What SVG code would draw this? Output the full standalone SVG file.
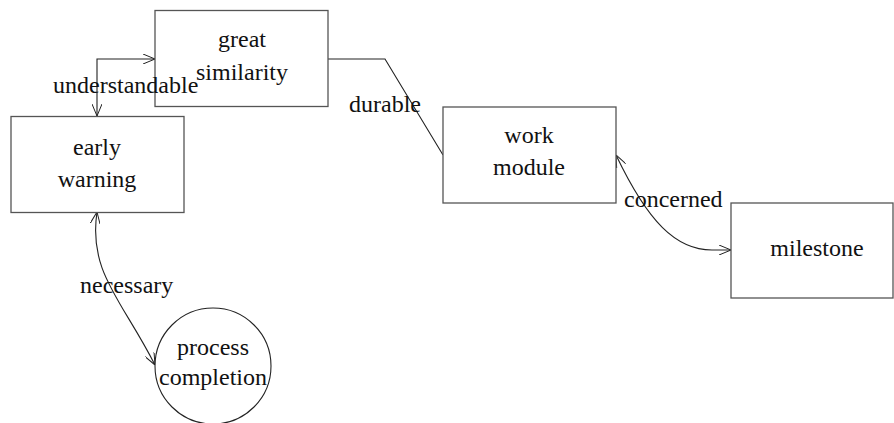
<svg xmlns="http://www.w3.org/2000/svg" width="894" height="423" viewBox="0 0 894 423">
<defs>
<marker id="arr" viewBox="0 0 12 10" refX="12" refY="5" markerWidth="12" markerHeight="10" markerUnits="userSpaceOnUse" orient="auto-start-reverse">
<path d="M0,0 L12,5 L0,10" fill="none" stroke="#222" stroke-width="1"/>
</marker>
</defs>
<style>
.box{fill:#fff;stroke:#555;stroke-width:1.3}
.t{text-anchor:middle}
.c{fill:none;stroke:#222;stroke-width:1.1}
</style>
<rect width="894" height="423" fill="#fff"/>
<g id="connectors">
<path class="c" d="M97,116 L97,59 L155,59" marker-start="url(#arr)" marker-end="url(#arr)"/>
<path class="c" d="M328,59 L385,59 L443,155"/>
<path class="c" d="M616,155 C648,222 676,250 712,250 L731,250" marker-start="url(#arr)" marker-end="url(#arr)"/>
<path class="c" d="M97,212 C88,272 122,300 155,365" marker-start="url(#arr)" marker-end="url(#arr)"/>
</g>
<g font-family="Liberation Serif, Times New Roman, serif" font-size="24" fill="#111">
<g id="great-similarity">
<rect class="box" x="155" y="10.5" width="173" height="96"/>
<text class="t" x="242" y="47">great</text>
<text class="t" x="242" y="80">similarity</text>
</g>
<g id="early-warning">
<rect class="box" x="11" y="116.5" width="173" height="96"/>
<text class="t" x="97" y="155">early</text>
<text class="t" x="97" y="187">warning</text>
</g>
<g id="work-module">
<rect class="box" x="443" y="107" width="173" height="96"/>
<text class="t" x="529" y="143">work</text>
<text class="t" x="529" y="175">module</text>
</g>
<g id="milestone">
<rect class="box" x="731" y="203" width="162" height="95"/>
<text class="t" x="817" y="256">milestone</text>
</g>
<g id="process-completion">
<circle cx="213" cy="366" r="58" fill="#fff" stroke="#222" stroke-width="1.1"/>
<text class="t" x="213" y="355">process</text>
<text class="t" x="213" y="385">completion</text>
</g>
<g id="labels">
<text x="53" y="93">understandable</text>
<text x="349" y="112">durable</text>
<text x="624" y="207">concerned</text>
<text x="80" y="293">necessary</text>
</g>
</g>
</svg>
